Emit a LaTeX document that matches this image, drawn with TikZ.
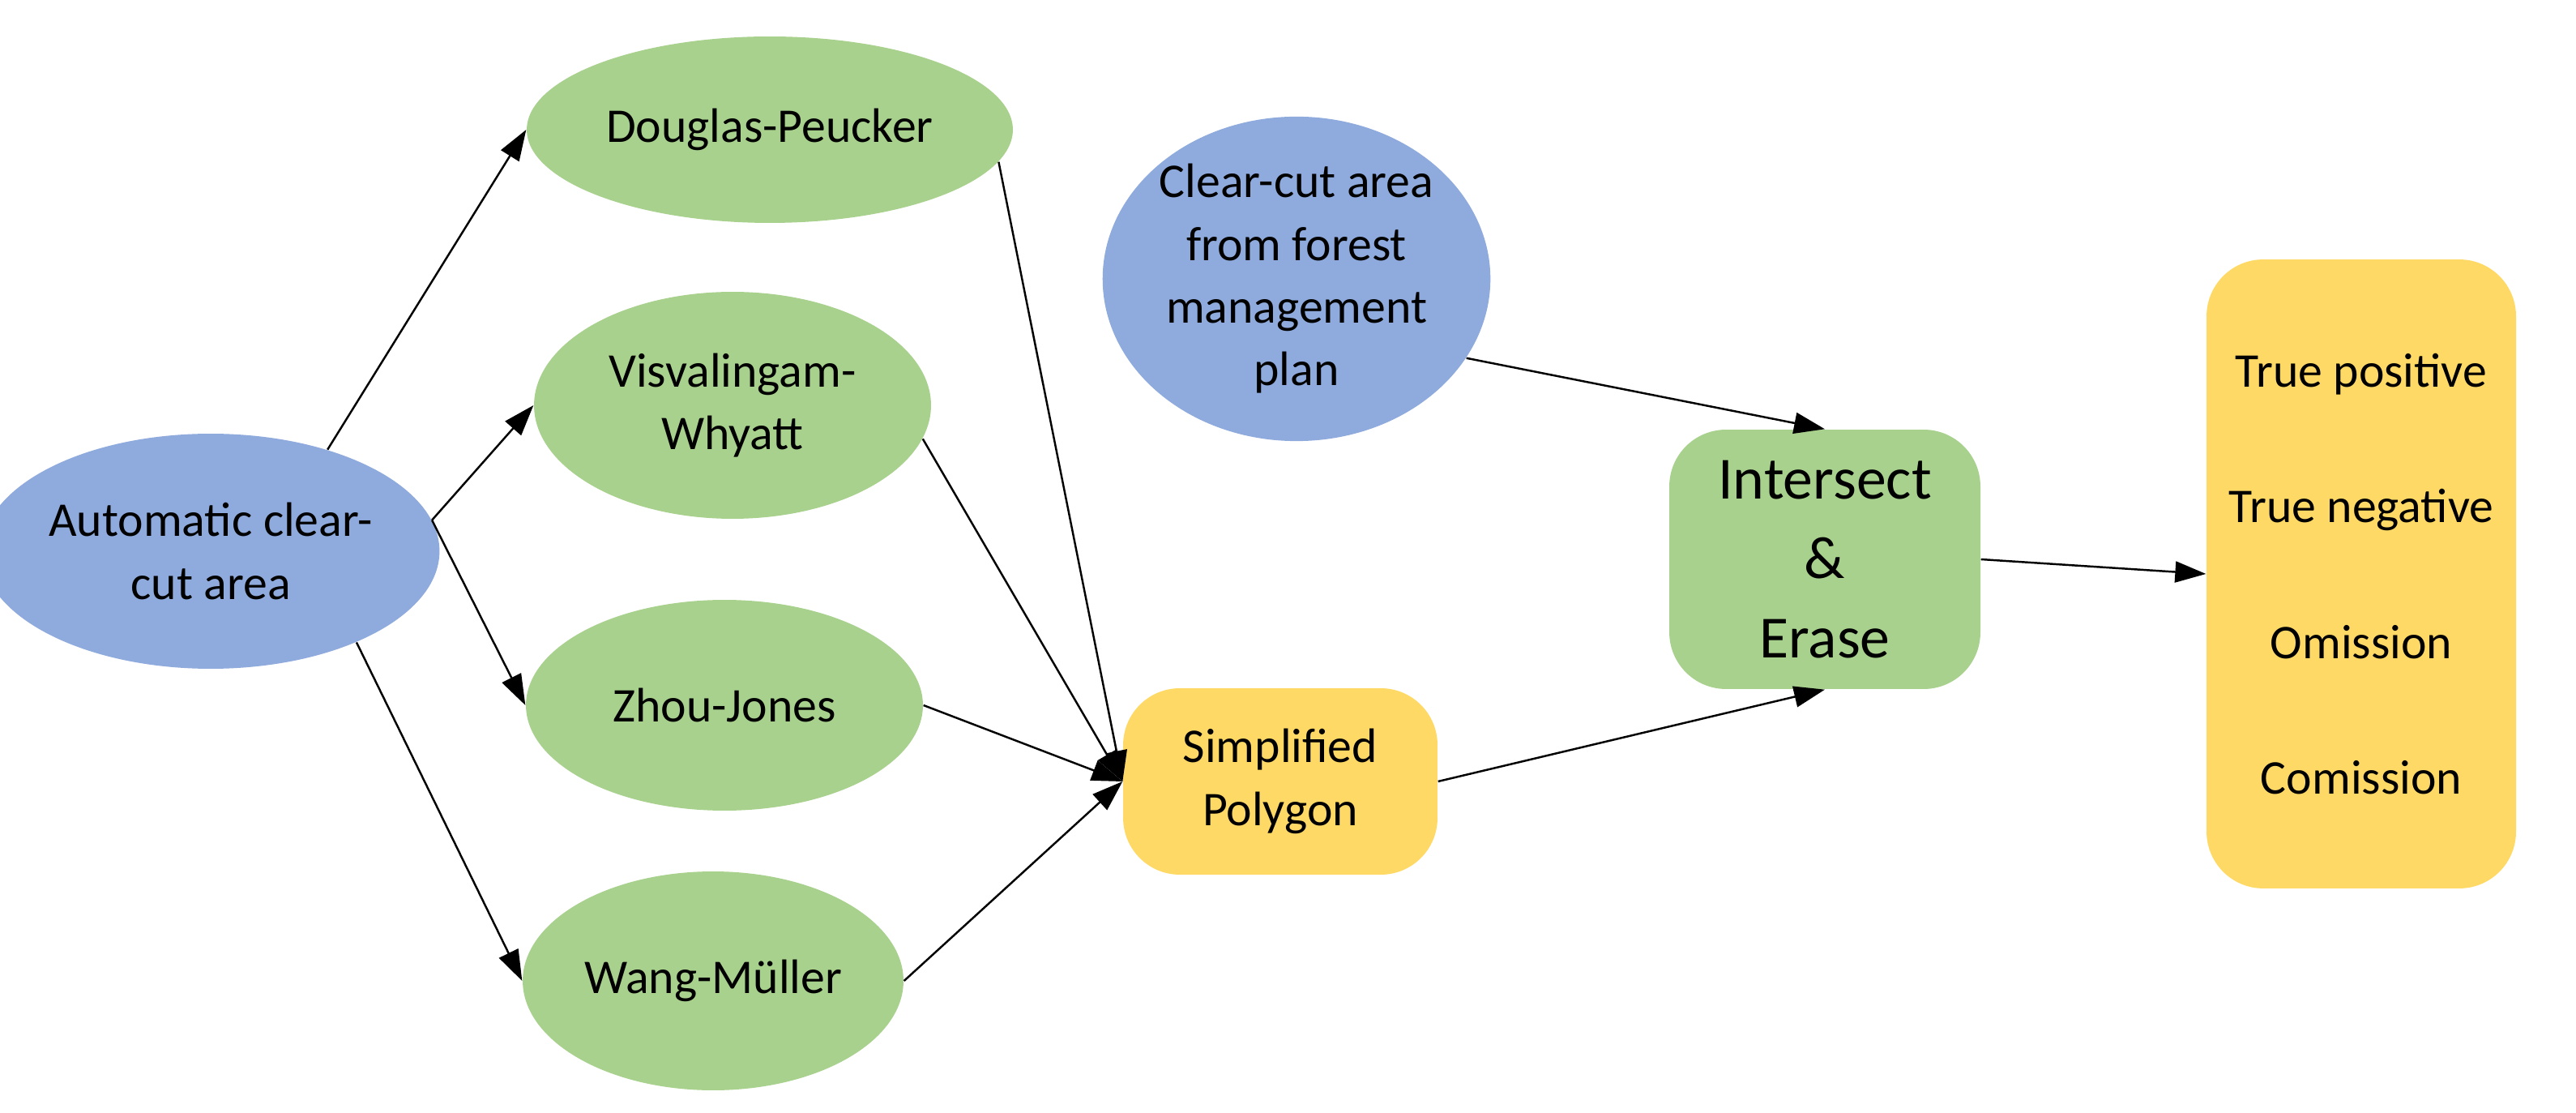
\documentclass[tikz,border=0pt]{standalone}
\usepackage{fontspec}
\setmainfont{Carlito}
\usetikzlibrary{shapes.geometric,arrows.meta}
\definecolor{bl}{HTML}{8FAADC}
\definecolor{gr}{HTML}{A9D18E}
\definecolor{ye}{HTML}{FFD966}
\begin{document}
\begin{tikzpicture}[x=0.02cm,y=-0.02cm,
  el/.style={ellipse,inner sep=0pt,align=center,font=\fontsize{17}{22}\selectfont},
  rr/.style={rounded corners=0.7cm,inner sep=0pt,align=center,font=\fontsize{17}{22}\selectfont},
  ar/.style={-{Triangle[length=0.38cm,width=0.26cm]},line width=0.7pt,black}]
\useasboundingbox (0,0) rectangle (1589.5,686.5);
\node[el,fill=bl,minimum width=4.8cm,minimum height=2.9cm] (auto) at (130,340) {Automatic clear-\\cut area};
\node[el,fill=gr,minimum width=6.0cm,minimum height=2.3cm] (dp) at (475,80) {Douglas-Peucker};
\node[el,fill=gr,minimum width=4.9cm,minimum height=2.8cm] (vw) at (452,250) {Visvalingam-\\Whyatt};
\node[el,fill=gr,minimum width=4.9cm,minimum height=2.6cm] (zj) at (447,435) {Zhou-Jones};
\node[el,fill=gr,minimum width=4.7cm,minimum height=2.7cm] (wm) at (440,605) {Wang-Müller};
\node[rr,fill=ye,minimum width=3.88cm,minimum height=2.3cm] (sp) at (790,482) {Simplified\\Polygon};
\node[el,fill=bl,minimum width=4.2cm,minimum height=3.7cm] (cc) at (800,172) {Clear-cut area\\from forest\\management\\plan};
\node[rr,fill=gr,minimum width=3.84cm,minimum height=3.2cm,font=\fontsize{21}{28}\selectfont] (ie) at (1126,345) {Intersect\\\&\\Erase};
\node[rr,fill=ye,minimum width=3.82cm,minimum height=7.76cm] (out) at (1457,354) {True positive\\[0.9cm]True negative\\[0.9cm]Omission\\[0.9cm]Comission};
\draw[ar] (auto.41) -- (dp.west);
\draw[ar] (auto.8) -- (vw.west);
\draw[ar] (auto.8) -- (zj.west);
\draw[ar] (auto.-32) -- (wm.west);
\draw[ar] (dp.-8) -- (sp.west);
\draw[ar] (vw.-10) -- (sp.west);
\draw[ar] (zj.east) -- (sp.west);
\draw[ar] (wm.east) -- (sp.west);
\draw[ar] (sp.east) -- (ie.south);
\draw[ar] (cc.-25) -- (ie.north);
\draw[ar] (ie.east) -- (out.west);
\end{tikzpicture}
\end{document}
